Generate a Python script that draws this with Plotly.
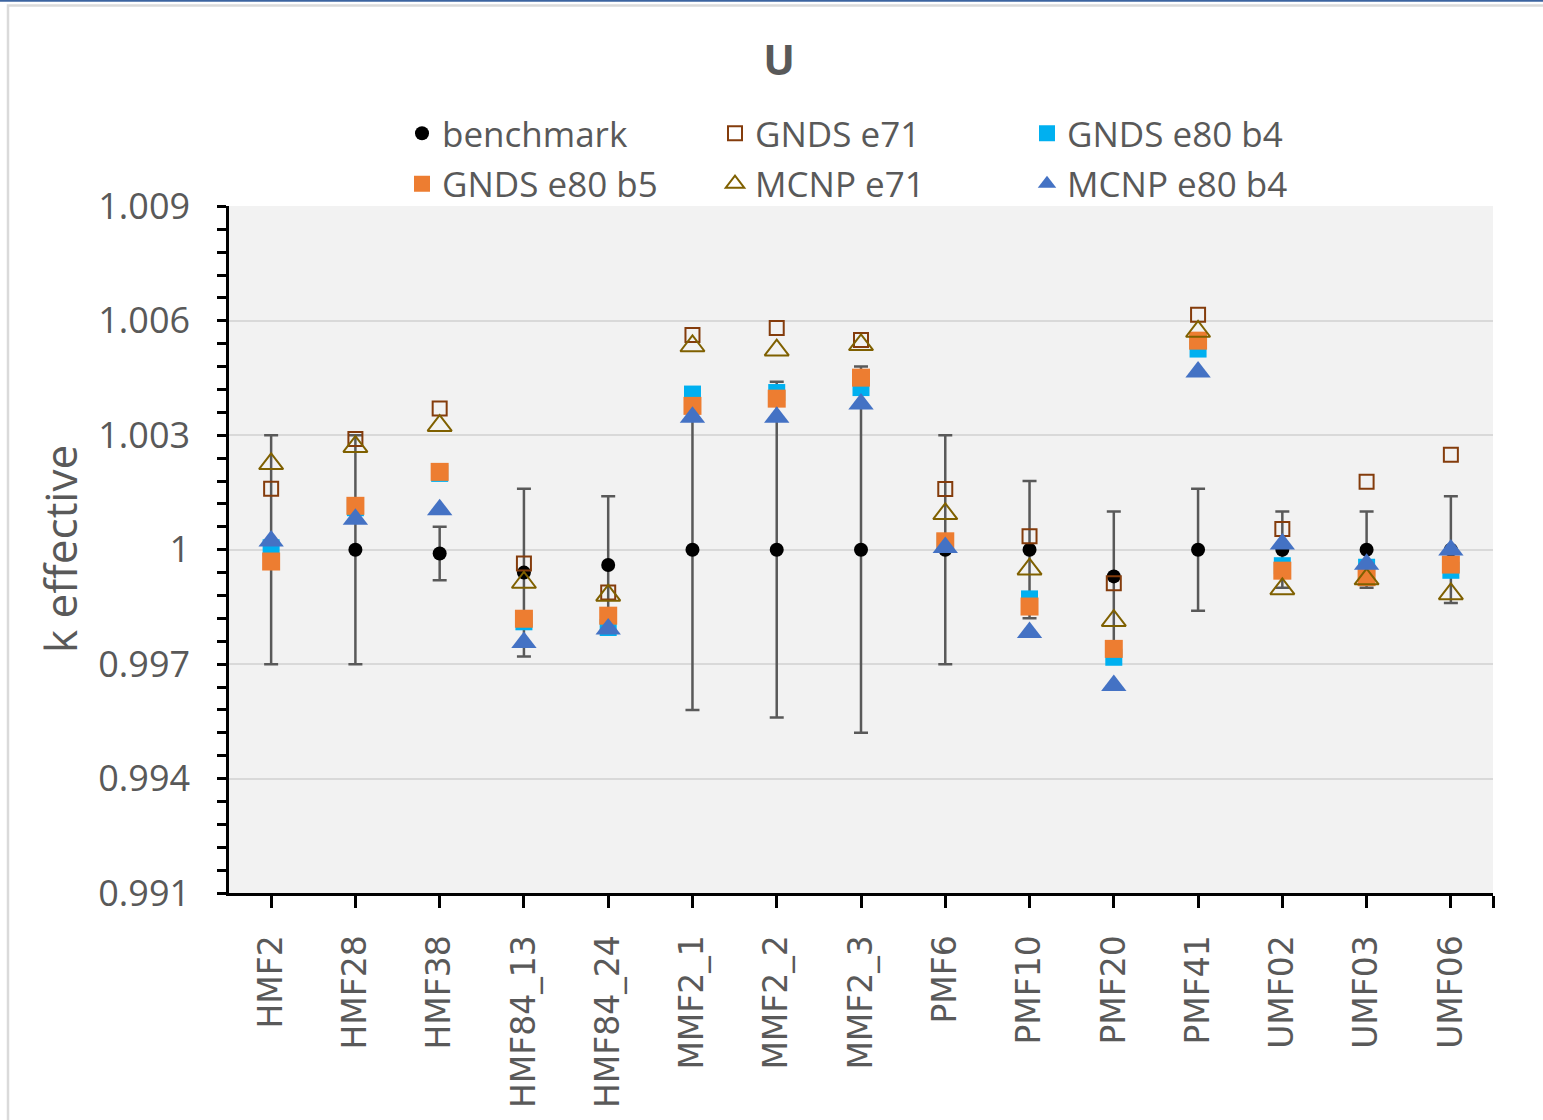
import plotly.graph_objects as go

# Benchmark cases
categories = ["HMF2", "HMF28", "HMF38", "HMF84_13", "HMF84_24", "MMF2_1", "MMF2_2",
              "MMF2_3", "PMF6", "PMF10", "PMF20", "PMF41", "UMF02", "UMF03", "UMF06"]

# Experimental k-eff and its uncertainty
benchmark = [1.0000, 1.0000, 0.9999, 0.9994, 0.9996, 1.0000, 1.0000, 1.0000,
             1.0000, 1.0000, 0.9993, 1.0000, 1.0000, 1.0000, 1.0000]
benchmark_unc = [0.0030, 0.0030, 0.0007, 0.0022, 0.0018, 0.0042, 0.0044, 0.0048,
                 0.0030, 0.0018, 0.0017, 0.0016, 0.0010, 0.0010, 0.0014]

# Calculated k-eff
gnds_e71 = [1.00160, 1.00290, 1.00370, 0.99964, 0.99888, 1.00563, 1.00581, 1.00550,
            1.00159, 1.00035, 0.99912, 1.00616, 1.00054, 1.00178, 1.00249]
gnds_e80_b4 = [1.00005, 1.00110, 1.00200, 0.99811, 0.99796, 1.00408, 1.00412, 1.00425,
               1.00020, 0.99871, 0.99718, 1.00526, 0.99958, 0.99954, 0.99946]
gnds_e80_b5 = [0.99969, 1.00115, 1.00204, 0.99819, 0.99827, 1.00377, 1.00396, 1.00451,
               1.00022, 0.99851, 0.99740, 1.00548, 0.99945, 0.99928, 0.99961]
mcnp_e71 = [1.00225, 1.00270, 1.00325, 0.99914, 0.99880, 1.00534, 1.00523, 1.00537,
            1.00094, 0.99949, 0.99814, 1.00572, 0.99897, 0.99923, 0.99884]
mcnp_e80_b4 = [1.00023, 1.00080, 1.00105, 0.99757, 0.99792, 1.00347, 1.00347, 1.00382,
               1.00006, 0.99783, 0.99644, 1.00466, 1.00015, 0.99962, 0.99999]

y_tick_vals = [0.991, 0.994, 0.997, 1.0, 1.003, 1.006, 1.009]
y_tick_text = ["0.991", "0.994", "0.997", "1", "1.003", "1.006", "1.009"]

x = list(range(len(categories)))

FONT = "Open Sans"
GREY_TEXT = "#595959"

fig = go.Figure()

fig.add_trace(go.Scatter(
    x=x, y=benchmark, mode="markers", name="benchmark", legend="legend",
    legendgroup="a",
    marker=dict(symbol="circle", size=14, color="black"),
    error_y=dict(type="data", array=benchmark_unc, visible=True,
                 color="#595959", thickness=2.5, width=7),
))
fig.add_trace(go.Scatter(
    x=x, y=gnds_e71, mode="markers", name="GNDS e71", legend="legend2",
    legendgroup="b",
    marker=dict(symbol="square-open", size=14, color="#843C0C",
                line=dict(width=2, color="#843C0C")),
))
fig.add_trace(go.Scatter(
    x=x, y=gnds_e80_b4, mode="markers", name="GNDS e80 b4", legend="legend3",
    legendgroup="c",
    marker=dict(symbol="square", size=17, color="#00B0F0"),
))
fig.add_trace(go.Scatter(
    x=x, y=gnds_e80_b5, mode="markers", name="GNDS e80 b5", legend="legend",
    legendgroup="d",
    marker=dict(symbol="square", size=18, color="#ED7D31"),
))
fig.add_trace(go.Scatter(
    x=x, y=mcnp_e71, mode="markers", name="MCNP e71", legend="legend2",
    legendgroup="e",
    marker=dict(symbol="triangle-up-open", size=21, color="#7F6000",
                line=dict(width=2, color="#7F6000")),
))
fig.add_trace(go.Scatter(
    x=x, y=mcnp_e80_b4, mode="markers", name="MCNP e80 b4", legend="legend3",
    legendgroup="f",
    marker=dict(symbol="triangle-up", size=22, color="#4472C4"),
))

W, H = 1543, 1120
L, R, T, B = 229, 1493, 206, 893


def px_x(p):
    """Pixel column -> paper x."""
    return (p - L) / (R - L)


def px_y(p):
    """Pixel row -> paper y."""
    return (B - p) / (B - T)


legend_common = dict(
    orientation="v", xref="container", yref="container",
    xanchor="left", yanchor="top", bgcolor="rgba(0,0,0,0)",
    font=dict(family=FONT, size=35, color=GREY_TEXT),
    tracegroupgap=2, itemwidth=30,
)

fig.update_layout(
    width=W, height=H,
    margin=dict(l=L, r=W - R, t=T, b=H - B, autoexpand=False),
    paper_bgcolor="white",
    plot_bgcolor="#F2F2F2",
    showlegend=True,
    title=dict(text="<b>U</b>", x=779 / W, xref="container", xanchor="center",
               y=1 - 60 / H, yref="container", yanchor="middle",
               font=dict(family=FONT, size=42, color=GREY_TEXT)),
    legend=dict(x=402 / W, y=1 - 104 / H, **legend_common),
    legend2=dict(x=715 / W, y=1 - 104 / H, **legend_common),
    legend3=dict(x=1027 / W, y=1 - 104 / H, **legend_common),
    xaxis=dict(
        range=[-0.5, len(categories) - 0.5],
        tickmode="array",
        tickvals=x + [len(categories) - 0.5],
        ticktext=categories + [""],
        tickangle=-90,
        ticks="outside", ticklen=12, tickwidth=2.5, tickcolor="black",
        showline=True, linecolor="black", linewidth=3,
        showgrid=False, zeroline=False,
        tickfont=dict(family="DejaVu Sans", size=33, color=GREY_TEXT),
        ticklabelstandoff=14,
    ),
    yaxis=dict(
        range=[0.991, 1.00901],
        tickmode="array", tickvals=y_tick_vals, ticktext=y_tick_text,
        ticks="outside", ticklen=9, tickwidth=2.5, tickcolor="black",
        minor=dict(dtick=0.0006, tick0=0.991, ticks="outside", ticklen=9,
                   tickwidth=2.5, tickcolor="black", showgrid=False),
        showline=True, linecolor="black", linewidth=2.5,
        showgrid=True, gridcolor="#D9D9D9", gridwidth=2,
        zeroline=False,
        tickfont=dict(family=FONT, size=36, color=GREY_TEXT),
        ticklabelstandoff=20,
    ),
    annotations=[
        dict(text="k effective", xref="paper", yref="paper",
             x=px_x(60), y=px_y(549), xanchor="center", yanchor="middle",
             textangle=-90, showarrow=False,
             font=dict(family=FONT, size=44, color=GREY_TEXT)),
    ],
    shapes=[
        # chart frame
        dict(type="rect", xref="paper", yref="paper",
             x0=px_x(8), x1=px_x(W + 20), y0=px_y(H + 20), y1=px_y(5.5),
             line=dict(color="#DADADA", width=2.5), layer="below"),
        # window edge at the very top
        dict(type="line", xref="paper", yref="paper",
             x0=px_x(0), x1=px_x(W), y0=px_y(0.8), y1=px_y(0.8),
             line=dict(color="#3C64A0", width=2)),
    ],
)

fig.write_html("out.html")
